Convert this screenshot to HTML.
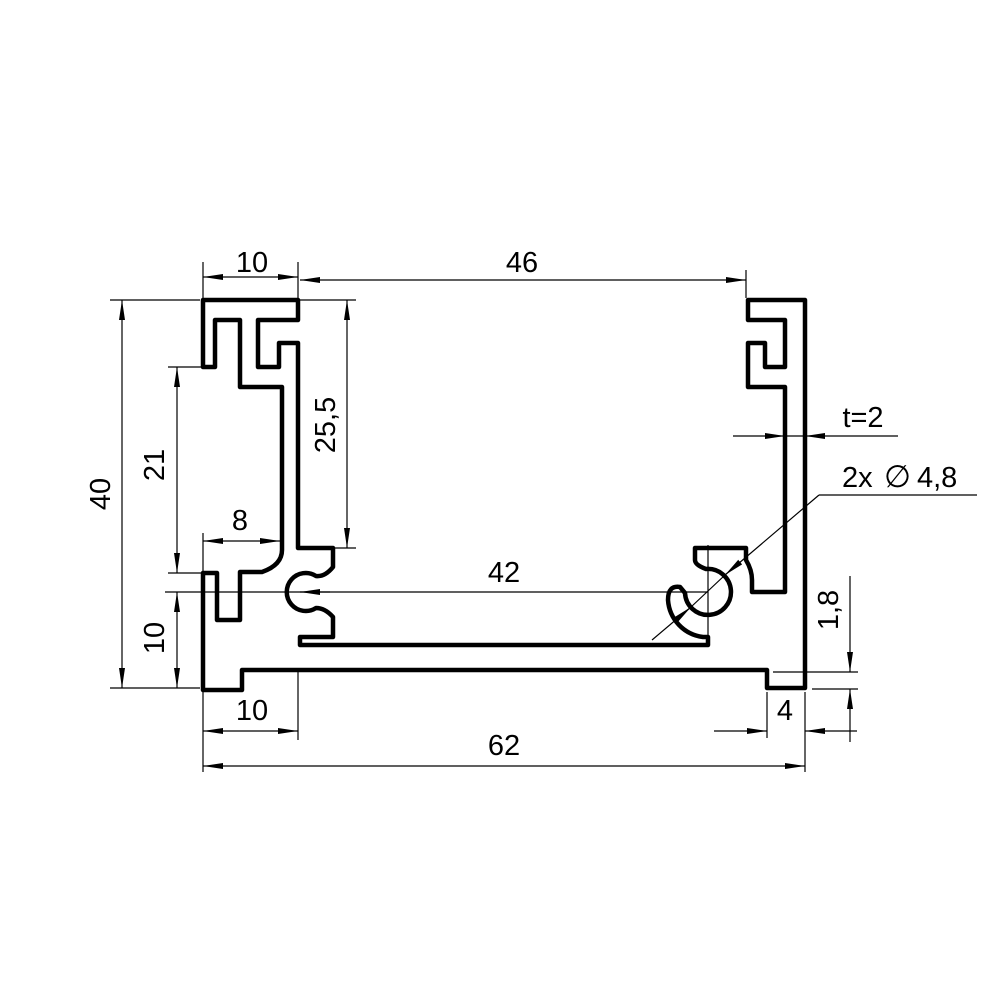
<!DOCTYPE html>
<html><head><meta charset="utf-8"><style>
html,body{margin:0;padding:0;background:#fff;}
svg{display:block;}
text{font-family:"Liberation Sans","DejaVu Sans",sans-serif;font-size:29px;fill:#000;}
</style></head><body>
<svg width="1000" height="1000" viewBox="0 0 1000 1000" xmlns="http://www.w3.org/2000/svg">
<defs>
<marker id="a" viewBox="0 0 20 8" refX="20" refY="4" markerWidth="20" markerHeight="8" markerUnits="userSpaceOnUse" orient="auto-start-reverse">
<path d="M0,1 L20,4 L0,7 Z" fill="#000"/></marker>
</defs>
<path fill="none" stroke="#000" stroke-width="4.5" stroke-linejoin="round" d="
M203,300 L298,300 L298,320 L258,320 L258,367 L279,367 L279,343 L298,343 L298,548 L333,548 L333,567
Q325,577 316,576 A19,19 0 1 0 316,608 Q325,608 333,617 L333,637 L300,637 L300,645 L708,645 L708,637 L703,637
A40,40 0 0 1 668,600 Q668,585 680,587 L685,593 A23,23 0 1 0 706,569 Q695,565 695,560 L695,548 L746,548 L746,560
Q752,570 752,580 L752,592 L785,592 L785,387 L748,387 L748,343 L765,343 L765,367 L785,367 L785,320 L748,320 L748,300 L805,300
L805,688 L767,688 L767,670 L242,670 L242,690 L203,690 L203,573 L217,573 L217,620 L240,620 L240,572 L262,572
Q282,565 282,550 L282,387 L240,387 L240,320 L215,320 L215,367 L203,367 Z"/>
<g stroke="#000" stroke-width="1.2" fill="none">
<line x1="203" y1="262" x2="203" y2="298"/><line x1="298" y1="262" x2="298" y2="298"/><line x1="746" y1="270" x2="746" y2="298"/>
<line x1="110" y1="300" x2="200" y2="300"/><line x1="110" y1="688" x2="200" y2="688"/>
<line x1="168" y1="367" x2="203" y2="367"/><line x1="168" y1="573" x2="203" y2="573"/>
<line x1="300" y1="300" x2="356" y2="300"/><line x1="335" y1="548" x2="356" y2="548"/>
<line x1="203" y1="533" x2="203" y2="573"/>
<line x1="165" y1="592" x2="330" y2="592"/>
<line x1="298" y1="672" x2="298" y2="740"/><line x1="203" y1="692" x2="203" y2="772"/><line x1="805" y1="692" x2="805" y2="772"/>
<line x1="767" y1="692" x2="767" y2="738"/>
<line x1="773" y1="672" x2="858" y2="672"/><line x1="812" y1="689" x2="858" y2="689"/>
<line x1="708" y1="545" x2="708" y2="640"/>
<line x1="203" y1="277" x2="298" y2="277" marker-start="url(#a)" marker-end="url(#a)"/>
<line x1="300" y1="280" x2="746" y2="280" marker-start="url(#a)" marker-end="url(#a)"/>
<line x1="122" y1="300" x2="122" y2="688" marker-start="url(#a)" marker-end="url(#a)"/>
<line x1="177" y1="367" x2="177" y2="573" marker-start="url(#a)" marker-end="url(#a)"/>
<line x1="177" y1="592" x2="177" y2="688" marker-start="url(#a)" marker-end="url(#a)"/>
<line x1="347" y1="300" x2="347" y2="548" marker-start="url(#a)" marker-end="url(#a)"/>
<line x1="203" y1="541" x2="280" y2="541" marker-start="url(#a)" marker-end="url(#a)"/>
<line x1="300" y1="592" x2="708" y2="592" marker-start="url(#a)"/>
<line x1="203" y1="731" x2="298" y2="731" marker-start="url(#a)" marker-end="url(#a)"/>
<line x1="203" y1="766" x2="805" y2="766" marker-start="url(#a)" marker-end="url(#a)"/>
<line x1="733" y1="436" x2="785" y2="436" marker-end="url(#a)"/><line x1="785" y1="436" x2="805" y2="436"/>
<line x1="898" y1="436" x2="805" y2="436" marker-end="url(#a)"/>
<line x1="714" y1="731" x2="767" y2="731" marker-end="url(#a)"/><line x1="857" y1="731" x2="805" y2="731" marker-end="url(#a)"/>
<line x1="850" y1="576" x2="850" y2="672" marker-end="url(#a)"/><line x1="850" y1="742" x2="850" y2="689" marker-end="url(#a)"/>
<line x1="977" y1="495" x2="819" y2="495"/>
<line x1="819" y1="495" x2="725" y2="575" marker-end="url(#a)"/>
<line x1="652" y1="640" x2="691" y2="607" marker-end="url(#a)"/>
<line x1="691" y1="607" x2="725" y2="575"/>
</g>
<text x="252" y="272" text-anchor="middle">10</text>
<text x="522" y="272" text-anchor="middle">46</text>
<text x="252" y="720" text-anchor="middle">10</text>
<text x="504" y="755" text-anchor="middle">62</text>
<text x="504" y="582" text-anchor="middle">42</text>
<text x="240" y="530" text-anchor="middle">8</text>
<text x="785" y="720" text-anchor="middle">4</text>
<text x="863" y="427" text-anchor="middle">t=2</text>
<text x="842" y="487">2x</text>
<text x="884" y="487" style="font-size:31px">∅</text>
<text x="917" y="487">4,8</text>
<text transform="translate(110,494) rotate(-90)" text-anchor="middle">40</text>
<text transform="translate(164,465) rotate(-90)" text-anchor="middle">21</text>
<text transform="translate(164,638) rotate(-90)" text-anchor="middle">10</text>
<text transform="translate(335,425) rotate(-90)" text-anchor="middle">25,5</text>
<text transform="translate(838,610) rotate(-90)" text-anchor="middle">1,8</text>
</svg>
</body></html>
